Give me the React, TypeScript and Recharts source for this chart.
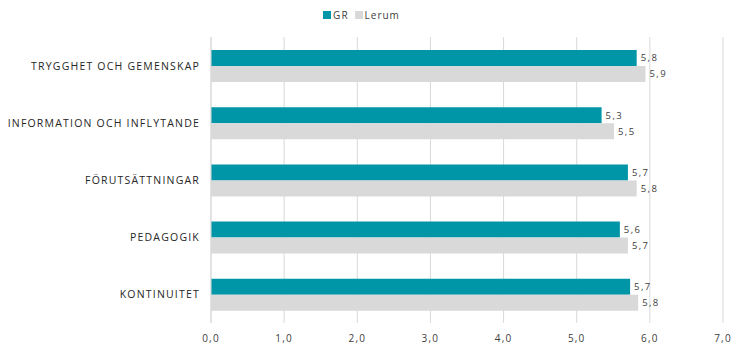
import React from 'react';
import { BarChart, Bar, XAxis, YAxis, CartesianGrid, Legend, LabelList } from 'recharts';

const categories = [
  'TRYGGHET OCH GEMENSKAP',
  'INFORMATION OCH INFLYTANDE',
  'FÖRUTSÄTTNINGAR',
  'PEDAGOGIK',
  'KONTINUITET',
];
const grValues = [5.82, 5.34, 5.7, 5.59, 5.73];
const lerumValues = [5.94, 5.51, 5.82, 5.7, 5.84];
const xTicks = [0, 1, 2, 3, 4, 5, 6, 7];

const data = categories.map((name, i) => ({ name, GR: grValues[i], Lerum: lerumValues[i] }));

const fmt = (v: number) => v.toFixed(1).replace('.', ',');

const LegendContent = () => (
  <div style={{ display: 'flex', justifyContent: 'center', fontFamily: 'Open Sans', fontSize: 10, color: '#404040', letterSpacing: 1 }}>
    {[
      { label: 'GR', color: '#0096a8' },
      { label: 'Lerum', color: '#d9d9d9' },
    ].map((e) => (
      <span key={e.label} style={{ display: 'flex', alignItems: 'center', marginRight: 6 }}>
        <span style={{ width: 8, height: 8, background: e.color, marginRight: 2, display: 'inline-block' }} />
        {e.label}
      </span>
    ))}
  </div>
);

const CategoryTick = (props: any) => {
  const { x, y, payload } = props;
  return (
    <text
      x={x - 9}
      y={y}
      dy={4}
      textAnchor="end"
      fontFamily="Open Sans"
      fontSize={10.5}
      fill="#262626"
      letterSpacing={1.2}
    >
      {payload.value}
    </text>
  );
};

const labelStyle = { fontFamily: 'Open Sans', fontSize: 9.5, fill: '#404040', letterSpacing: 1.4 };

const App: React.FC = () => {
  return (
    <div style={{ margin: -8, width: 742, height: 362, background: '#fff' }}>
      <BarChart
        width={742}
        height={362}
        data={data}
        layout="vertical"
        margin={{ top: 23, right: 19, bottom: 9, left: 6 }}
        barGap={0}
        barSize={16}
      >
        <CartesianGrid horizontal={false} stroke="#d9d9d9" />
        <XAxis
          type="number"
          domain={[0, 7]}
          ticks={xTicks}
          tickFormatter={fmt}
          axisLine={false}
          tickLine={false}
          height={30}
          tickMargin={6}
          tick={{ fontFamily: 'Open Sans', fontSize: 10, fill: '#404040', letterSpacing: 1.2 }}
        />
        <YAxis
          type="category"
          dataKey="name"
          width={205}
          axisLine={{ stroke: '#d9d9d9' }}
          tickLine={false}
          tickSize={0}
          tick={<CategoryTick />}
        />
        <Legend verticalAlign="top" content={<LegendContent />} wrapperStyle={{ top: 8 }} />
        <Bar dataKey="GR" fill="#0096a8" isAnimationActive={false}>
          <LabelList dataKey="GR" position="right" offset={4} formatter={(v: any) => fmt(Number(v))} style={labelStyle} />
        </Bar>
        <Bar dataKey="Lerum" fill="#d9d9d9" isAnimationActive={false}>
          <LabelList dataKey="Lerum" position="right" offset={4} formatter={(v: any) => fmt(Number(v))} style={labelStyle} />
        </Bar>
      </BarChart>
    </div>
  );
};

export default App;
